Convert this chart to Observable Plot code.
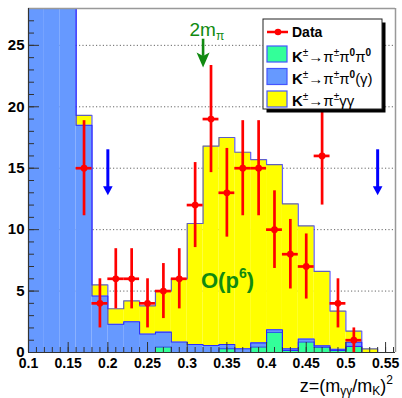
<!DOCTYPE html>
<html><head><meta charset="utf-8">
<script src="https://cdn.jsdelivr.net/npm/d3@7"></script>
<script src="https://cdn.jsdelivr.net/npm/@observablehq/plot@0.6"></script>
<style>
body{margin:0;background:#fff;}
#wrap{position:relative;width:402px;height:398px;}
</style></head><body><div id="wrap"></div>
<script>
// ---- data ----
const binStart = [0.10,0.12,0.14,0.16,0.18,0.20,0.22,0.24,0.26,0.28,0.30,0.32,0.34,0.36,0.38,0.40,0.42,0.44,0.46,0.48,0.50,0.52,0.54];
const binWidth = 0.02;
const kPiPi0Pi0   = [0,0,0,0,0,0,0,0,0.45,0,0,0,0.3,0,0.45,1.65,0.17,0.85,0.43,0.16,0.5,0,0];
const kPiPi0Gamma = [60,60,60,18.5,4.6,2.3,2.5,1.5,1.21,0.85,0.65,0.57,0.35,0.3,0.33,0.2,0.13,0.25,0.11,0.11,0.34,0,0];
const kPiGG       = [0,0,0,0.8,0.9,1.26,1.7,2.3,3.34,5.15,9.85,16.23,16.85,16.0,14.92,13.45,11.8,9.2,6.06,3.1,0.9,0.3,0];
const dataZ   = [0.17,0.19,0.21,0.23,0.25,0.27,0.29,0.31,0.33,0.35,0.37,0.39,0.41,0.43,0.45,0.47,0.49,0.51];
const dataN   = [15,4,6,6,4,5,6,12,19,13,15,15,10,8,7,16,4,1];
const dataErr = [3.87,2,2.45,2.45,2,2.24,2.45,3.46,4.36,3.61,3.87,3.87,3.16,2.83,2.65,4,2,1];
const cuts = [0.2, 0.54];
const cutArrow = [16.5, 12.8];          // top, tip
const threshold = [0.32];
const thresholdArrow = [25.5, 23.2];    // top, tip
const xTicks = [0.1,0.15,0.2,0.25,0.3,0.35,0.4,0.45,0.5,0.55];
const xTickLabels = ["0.1","0.15","0.2","0.25","0.3","0.35","0.4","0.45","0.5","0.55"];
const yTicks = [0,5,10,15,20,25];
const xDomain = [0.1, 0.5625];
const yDomain = [0, 28];
const legendLabels = ["Data","K±→π±π0π0","K±→π±π0(γ)","K±→π±γγ"];

// ---- styles ----
const GREEN = "#33ff99", BLUE = "#6699ff", YELLOW = "#ffff00", EDGE = "#2a2aff", RED = "#ff0000", DKGREEN = "#108a10";
const FONT = "'Liberation Sans', Arial, Helvetica, sans-serif";

const rows = binStart.map((x, i) => {
  const g = kPiPi0Pi0[i], b = kPiPi0Gamma[i], y = kPiGG[i];
  return {x1: x, x2: x + binWidth, g: g, b: g + b, t: g + b + y};
});
const last = rows[rows.length - 1];
const steps = rows.map(r => ({x: r.x1, g: r.g, b: r.b, t: r.t})).concat([{x: last.x2, g: last.g, b: last.b, t: last.t}]);
const data = dataZ.map((z, i) => ({z, n: dataN[i], e: dataErr[i]}));

const headBlue = {draw(ctx){ ctx.moveTo(0,0); ctx.lineTo(-4.8,-9); ctx.lineTo(4.8,-9); ctx.closePath(); }};
const headGreen = {draw(ctx){ ctx.moveTo(0,0); ctx.lineTo(-6.5,-15); ctx.lineTo(0,-11.5); ctx.lineTo(6.5,-15); ctx.closePath(); }};

const innerH = 398 - 8 - 46, innerW = 402 - 28 - 7;

const chart = Plot.plot({
  width: 402, height: 398,
  marginLeft: 28, marginRight: 7, marginTop: 8, marginBottom: 46,
  x: {domain: xDomain},
  y: {domain: yDomain},
  style: {fontFamily: FONT, background: "white", color: "black"},
  marks: [
    Plot.ruleY(yTicks.filter(d => d > 0), {y: d => d, stroke: "#666", strokeDasharray: "1.2,2.2", strokeWidth: 1}),
    Plot.rect(rows, {x1: "x1", x2: "x2", y1: 0, y2: "g", fill: GREEN, clip: true}),
    Plot.rect(rows, {x1: "x1", x2: "x2", y1: "g", y2: "b", fill: BLUE, clip: true}),
    Plot.rect(rows, {x1: "x1", x2: "x2", y1: "b", y2: "t", fill: YELLOW, clip: true}),
    Plot.line(steps, {x: "x", y: "g", curve: "step-after", stroke: EDGE, strokeWidth: 1.1, clip: true}),
    Plot.line(steps, {x: "x", y: "b", curve: "step-after", stroke: EDGE, strokeWidth: 1.1, clip: true}),
    Plot.line(steps, {x: "x", y: "t", curve: "step-after", stroke: EDGE, strokeOpacity: 0.75, strokeWidth: 1.2, clip: true}),
    // inner ticks
    Plot.ruleX(d3.range(0.1, 0.5601, 0.01), {x: d => d, insetTop: innerH - 5, stroke: "#333", strokeWidth: 1}),
    Plot.ruleX(xTicks, {x: d => d, insetTop: innerH - 10, stroke: "#333", strokeWidth: 1}),
    Plot.ruleY(d3.range(0, 28.01, 1), {y: d => d, insetRight: innerW - 6, stroke: "#333", strokeWidth: 1}),
    Plot.ruleY(yTicks, {y: d => d, insetRight: innerW - 11, stroke: "#333", strokeWidth: 1}),
    // frame
    Plot.ruleY([yDomain[1]], {y: d => d, stroke: "#999", strokeWidth: 1.5}),
    Plot.ruleX([xDomain[1]], {x: d => d, stroke: "#999", strokeWidth: 1.5}),
    Plot.ruleX([xDomain[0]], {x: d => d, stroke: "#333", strokeWidth: 1.2}),
    Plot.ruleY([yDomain[0]], {y: d => d, stroke: "#333", strokeWidth: 1.2}),
    // arrows
    Plot.ruleX(cuts, {x: d => d, y1: cutArrow[1] + 0.6, y2: cutArrow[0], stroke: "#0000ff", strokeWidth: 3}),
    Plot.dot(cuts, {x: d => d, y: cutArrow[1], symbol: headBlue, fill: "#0000ff", stroke: "none"}),
    Plot.ruleX(threshold, {x: d => d, y1: thresholdArrow[1] + 0.9, y2: thresholdArrow[0], stroke: DKGREEN, strokeWidth: 2.6}),
    Plot.dot(threshold, {x: d => d, y: thresholdArrow[1], symbol: headGreen, fill: DKGREEN, stroke: "none"}),
    // data
    Plot.ruleX(data, {x: "z", y1: d => d.n - d.e, y2: d => d.n + d.e, stroke: RED, strokeWidth: 2.7}),
    Plot.ruleY(data, {y: "n", x1: d => d.z - binWidth / 2, x2: d => d.z + binWidth / 2, stroke: RED, strokeWidth: 2.7}),
    Plot.dot(data, {x: "z", y: "n", r: 3.4, fill: RED, stroke: "none"}),
    // axes
    Plot.axisX(xTicks, {tickSize: 0, tickPadding: 6, tickFormat: d => xTickLabels[xTicks.indexOf(d)], fontSize: 14, fontWeight: "bold", label: null}),
    Plot.axisY(yTicks, {tickSize: 0, tickPadding: 4, fontSize: 15, fontWeight: "bold", label: null})
  ]
});
document.getElementById("wrap").appendChild(chart);

// ---- rich text helpers ----
const svg = d3.select(chart);
const sx = chart.scale("x"), sy = chart.scale("y");
function rich(x, y, parts, attrs) {
  const t = svg.append("text").attr("x", x).attr("y", y).attr("font-family", FONT).attr("text-anchor", "start").attr("fill", "#000");
  for (const [k, v] of Object.entries(attrs || {})) t.attr(k, v);
  let off = 0;
  for (const p of parts) {
    const o = p.off || 0;
    const s = t.append("tspan").text(p.t).attr("dy", o - off);
    off = o;
    if (p.size) s.attr("font-size", p.size);
    if (p.weight) s.attr("font-weight", p.weight);
  }
  return t;
}

// legend box (drawn first)
const lg = svg.append("g");
lg.append("rect").attr("x", 266.5).attr("y", 22.5).attr("width", 119).attr("height", 90).attr("fill", "#000").attr("stroke", "none");
lg.append("rect").attr("x", 263).attr("y", 19).attr("width", 119).attr("height", 90).attr("fill", "#ffffff").attr("stroke", "#222").attr("stroke-width", 1);
lg.append("line").attr("x1", 267).attr("x2", 288).attr("y1", 32).attr("y2", 32).attr("stroke", RED).attr("stroke-width", 2.5);
lg.append("circle").attr("cx", 278).attr("cy", 32).attr("r", 3.3).attr("fill", RED);
const sw = [[GREEN, 46], [BLUE, 68.5], [YELLOW, 91]];
sw.forEach(([c, y]) => lg.append("rect").attr("x", 267).attr("y", y).attr("width", 20).attr("height", 16).attr("fill", c).attr("stroke", "#4455ff").attr("stroke-width", 1.2));

// annotations
rich(sx.apply(0.3035), sy.apply(25.7), [{t: "2m"}, {t: "π", size: 12, off: 4}], {"font-size": 19, fill: DKGREEN});
rich(sx.apply(0.318), sy.apply(5.2), [{t: "O(p"}, {t: "6", size: 14, off: -10}, {t: ")", off: 0}], {"font-size": 22, "font-weight": "bold", fill: DKGREEN});

// axis title
rich(393, 392, [{t: "z=(m"}, {t: "γγ", size: 12, off: 3}, {t: "/m", off: 0}, {t: "K", size: 12, off: 3}, {t: ")", off: 0}, {t: "2", size: 12, off: -8}], {"font-size": 18, "text-anchor": "end"});

// legend text
rich(292, 37, [{t: legendLabels[0]}], {"font-size": 14, "font-weight": "bold"});
const sup = (t, b) => ({t, size: 10, off: -6, weight: b ? "bold" : "normal"});
const base = t => ({t, off: 0, weight: "normal"});
rich(292, 61.5, [{t: "K", weight: "bold"}, sup("±"), base("→π"), sup("±"), base("π"), sup("0", true), base("π"), sup("0", true)], {"font-size": 15});
rich(292, 84, [{t: "K", weight: "bold"}, sup("±"), base("→π"), sup("±"), base("π"), sup("0", true), base("(γ)")], {"font-size": 15});
rich(292, 106, [{t: "K", weight: "bold"}, sup("±"), base("→π"), sup("±"), base("γγ")], {"font-size": 15});
</script>
</body></html>
